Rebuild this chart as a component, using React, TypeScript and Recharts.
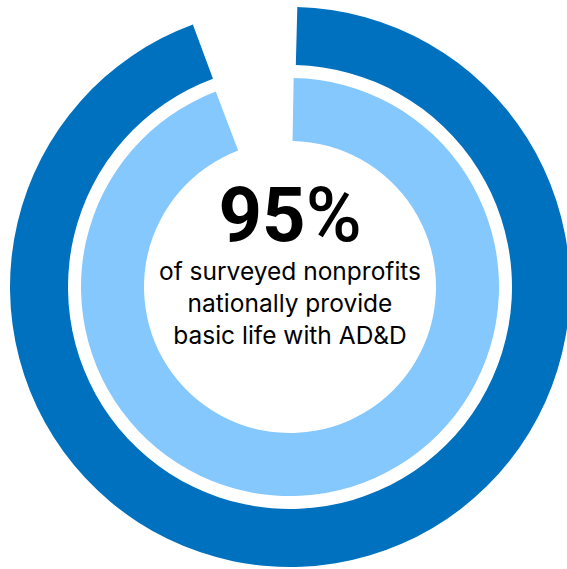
import { Cell, Pie, PieChart } from "recharts"

// share shown in each ring, remainder left empty
const outerRing = [
  { name: "Provide", value: 95 },
  { name: "Rest", value: 5 },
]
const innerRing = [
  { name: "Provide", value: 95 },
  { name: "Rest", value: 5 },
]
const headlineValue = "95"
const headlineUnit = "%"
const captionLines = [
  "of surveyed nonprofits",
  "nationally provide",
  "basic life with AD&D",
]

const DARK = "#0071BF"
const LIGHT = "#85C8FD"
const CX = 290
const CY = 287

export default function App() {
  return (
    <div
      style={{
        position: "fixed",
        left: 0,
        top: 0,
        width: 567,
        height: 569,
        overflow: "hidden",
        background: "#fff",
      }}
    >
      <PieChart width={567} height={569} margin={{ top: 0, right: 0, bottom: 0, left: 0 }}>
        <Pie
          data={outerRing}
          dataKey="value"
          cx={CX}
          cy={CY}
          innerRadius={222}
          outerRadius={280}
          startAngle={88.5}
          endAngle={-271.5}
          paddingAngle={2}
          stroke="none"
          isAnimationActive={false}
        >
          {outerRing.map((d, i) => (
            <Cell key={d.name} fill={i === 0 ? DARK : "transparent"} />
          ))}
        </Pie>
        <Pie
          data={innerRing}
          dataKey="value"
          cx={CX}
          cy={CY}
          innerRadius={146}
          outerRadius={209}
          startAngle={89}
          endAngle={-271}
          paddingAngle={2}
          stroke="none"
          isAnimationActive={false}
        >
          {innerRing.map((d, i) => (
            <Cell key={d.name} fill={i === 0 ? LIGHT : "transparent"} />
          ))}
        </Pie>
        <text
          x={CX}
          y={241}
          textAnchor="middle"
          fontFamily="Roboto, sans-serif"
          fontWeight={700}
          fontSize={76}
          fill="#000"
        >
          {headlineValue}
          <tspan fontWeight={500}>{headlineUnit}</tspan>
        </text>
        {captionLines.map((line, i) => (
          <text
            key={line}
            x={CX}
            y={280 + i * 31.8}
            textAnchor="middle"
            fontFamily="Inter, sans-serif"
            fontSize={24.5}
            fill="#000"
          >
            {line}
          </text>
        ))}
      </PieChart>
    </div>
  )
}
